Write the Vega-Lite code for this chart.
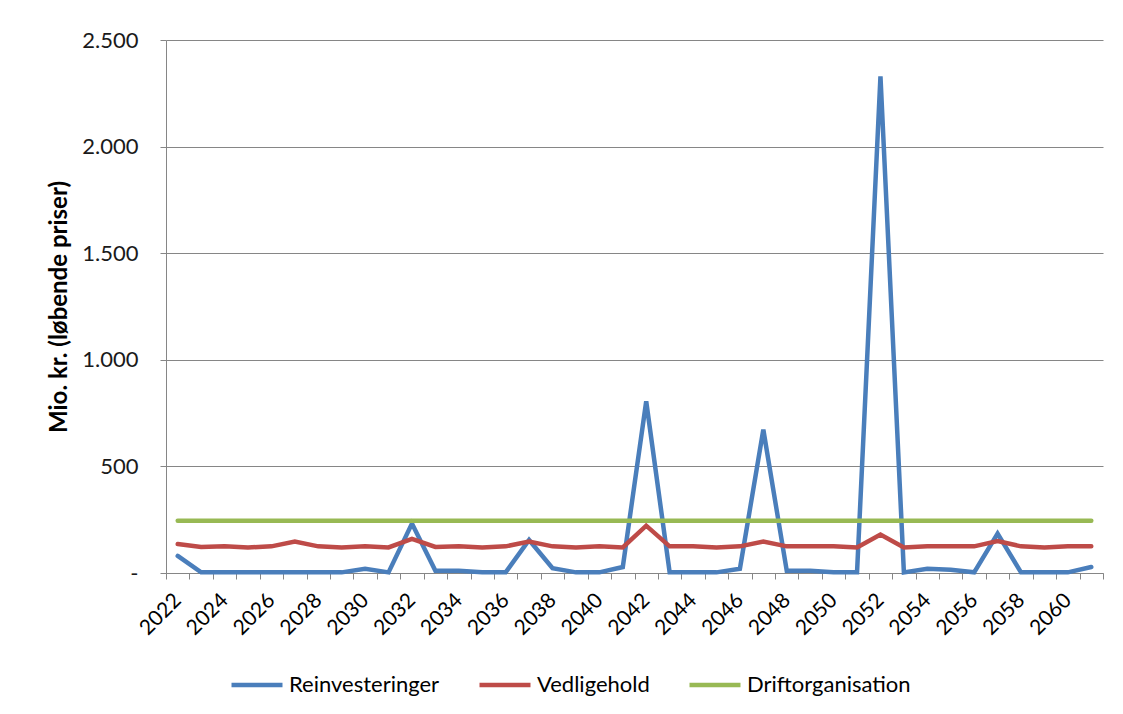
{
  "$schema": "https://vega.github.io/schema/vega-lite/v6.json",
  "autosize": "none",
  "width": 937,
  "height": 533,
  "padding": {"left": 166, "top": 40, "right": 20, "bottom": 141},
  "background": "white",
  "config": {
    "font": "Lato",
    "view": {"stroke": null}
  },
  "data": {
    "values": [
      {"year": 2022, "Reinvesteringer": 80, "Vedligehold": 136, "Driftorganisation": 245},
      {"year": 2023, "Reinvesteringer": 3, "Vedligehold": 122, "Driftorganisation": 245},
      {"year": 2024, "Reinvesteringer": 3, "Vedligehold": 125, "Driftorganisation": 245},
      {"year": 2025, "Reinvesteringer": 3, "Vedligehold": 120, "Driftorganisation": 245},
      {"year": 2026, "Reinvesteringer": 3, "Vedligehold": 125, "Driftorganisation": 245},
      {"year": 2027, "Reinvesteringer": 3, "Vedligehold": 148, "Driftorganisation": 245},
      {"year": 2028, "Reinvesteringer": 3, "Vedligehold": 125, "Driftorganisation": 245},
      {"year": 2029, "Reinvesteringer": 3, "Vedligehold": 120, "Driftorganisation": 245},
      {"year": 2030, "Reinvesteringer": 20, "Vedligehold": 125, "Driftorganisation": 245},
      {"year": 2031, "Reinvesteringer": 3, "Vedligehold": 120, "Driftorganisation": 245},
      {"year": 2032, "Reinvesteringer": 232, "Vedligehold": 160, "Driftorganisation": 245},
      {"year": 2033, "Reinvesteringer": 10, "Vedligehold": 122, "Driftorganisation": 245},
      {"year": 2034, "Reinvesteringer": 10, "Vedligehold": 125, "Driftorganisation": 245},
      {"year": 2035, "Reinvesteringer": 3, "Vedligehold": 120, "Driftorganisation": 245},
      {"year": 2036, "Reinvesteringer": 3, "Vedligehold": 125, "Driftorganisation": 245},
      {"year": 2037, "Reinvesteringer": 155, "Vedligehold": 148, "Driftorganisation": 245},
      {"year": 2038, "Reinvesteringer": 23, "Vedligehold": 125, "Driftorganisation": 245},
      {"year": 2039, "Reinvesteringer": 3, "Vedligehold": 120, "Driftorganisation": 245},
      {"year": 2040, "Reinvesteringer": 3, "Vedligehold": 125, "Driftorganisation": 245},
      {"year": 2041, "Reinvesteringer": 28, "Vedligehold": 120, "Driftorganisation": 245},
      {"year": 2042, "Reinvesteringer": 805, "Vedligehold": 222, "Driftorganisation": 245},
      {"year": 2043, "Reinvesteringer": 3, "Vedligehold": 125, "Driftorganisation": 245},
      {"year": 2044, "Reinvesteringer": 3, "Vedligehold": 125, "Driftorganisation": 245},
      {"year": 2045, "Reinvesteringer": 3, "Vedligehold": 120, "Driftorganisation": 245},
      {"year": 2046, "Reinvesteringer": 20, "Vedligehold": 125, "Driftorganisation": 245},
      {"year": 2047, "Reinvesteringer": 672, "Vedligehold": 148, "Driftorganisation": 245},
      {"year": 2048, "Reinvesteringer": 10, "Vedligehold": 125, "Driftorganisation": 245},
      {"year": 2049, "Reinvesteringer": 10, "Vedligehold": 125, "Driftorganisation": 245},
      {"year": 2050, "Reinvesteringer": 3, "Vedligehold": 125, "Driftorganisation": 245},
      {"year": 2051, "Reinvesteringer": 3, "Vedligehold": 120, "Driftorganisation": 245},
      {"year": 2052, "Reinvesteringer": 2330, "Vedligehold": 180, "Driftorganisation": 245},
      {"year": 2053, "Reinvesteringer": 3, "Vedligehold": 120, "Driftorganisation": 245},
      {"year": 2054, "Reinvesteringer": 20, "Vedligehold": 125, "Driftorganisation": 245},
      {"year": 2055, "Reinvesteringer": 15, "Vedligehold": 125, "Driftorganisation": 245},
      {"year": 2056, "Reinvesteringer": 3, "Vedligehold": 125, "Driftorganisation": 245},
      {"year": 2057, "Reinvesteringer": 185, "Vedligehold": 150, "Driftorganisation": 245},
      {"year": 2058, "Reinvesteringer": 3, "Vedligehold": 125, "Driftorganisation": 245},
      {"year": 2059, "Reinvesteringer": 3, "Vedligehold": 120, "Driftorganisation": 245},
      {"year": 2060, "Reinvesteringer": 3, "Vedligehold": 125, "Driftorganisation": 245},
      {"year": 2061, "Reinvesteringer": 28, "Vedligehold": 125, "Driftorganisation": 245}
    ]
  },
  "transform": [
    {"fold": ["Reinvesteringer", "Vedligehold", "Driftorganisation"], "as": ["serie", "value"]}
  ],
  "mark": {"type": "line", "strokeWidth": 4.5, "strokeJoin": "miter", "strokeCap": "round"},
  "encoding": {
    "x": {
      "field": "year",
      "type": "ordinal",
      "scale": {"type": "band", "paddingInner": 0, "paddingOuter": 0},
      "axis": {
        "title": null,
        "tickBand": "extent",
        "labelAngle": -45,
        "labelAlign": "right",
        "labelBaseline": "middle",
        "labelExpr": "datum.value % 2 == 0 ? datum.label : ''",
        "labelFontSize": 21,
        "labelColor": "#000000",
        "labelPadding": 18,
        "labelDx": 4,
        "tickSize": 6,
        "tickColor": "#868686",
        "domainColor": "#868686",
        "labelOverlap": false,
        "grid": false
      }
    },
    "y": {
      "field": "value",
      "type": "quantitative",
      "scale": {"domain": [0, 2500], "nice": false},
      "axis": {
        "title": "Mio. kr. (løbende priser)",
        "titleFontSize": 24,
        "titleFontWeight": "bold",
        "titleColor": "#000000",
        "titlePadding": 10,
        "values": [0, 500, 1000, 1500, 2000, 2500],
        "labelExpr": "datum.value == 0 ? '-' : replace(format(datum.value, ','), ',', '.')",
        "labelFontSize": 22,
        "labelColor": "#1a1a1a",
        "labelPadding": 22,
        "tickSize": 6,
        "tickColor": "#868686",
        "domainColor": "#868686",
        "gridColor": "#868686",
        "gridWidth": 1
      }
    },
    "color": {
      "field": "serie",
      "type": "nominal",
      "scale": {
        "domain": ["Reinvesteringer", "Vedligehold", "Driftorganisation"],
        "range": ["#4A7EBB", "#BE4B48", "#98B954"]
      },
      "legend": {
        "title": null,
        "orient": "none",
        "legendX": 63,
        "legendY": 617,
        "direction": "horizontal",
        "symbolType": "stroke",
        "symbolSize": 2600,
        "symbolStrokeWidth": 4.5,
        "labelFontSize": 22,
        "labelLimit": 400,
        "labelColor": "#000000",
        "columnPadding": 30,
        "labelOffset": 4
      }
    }
  }
}
